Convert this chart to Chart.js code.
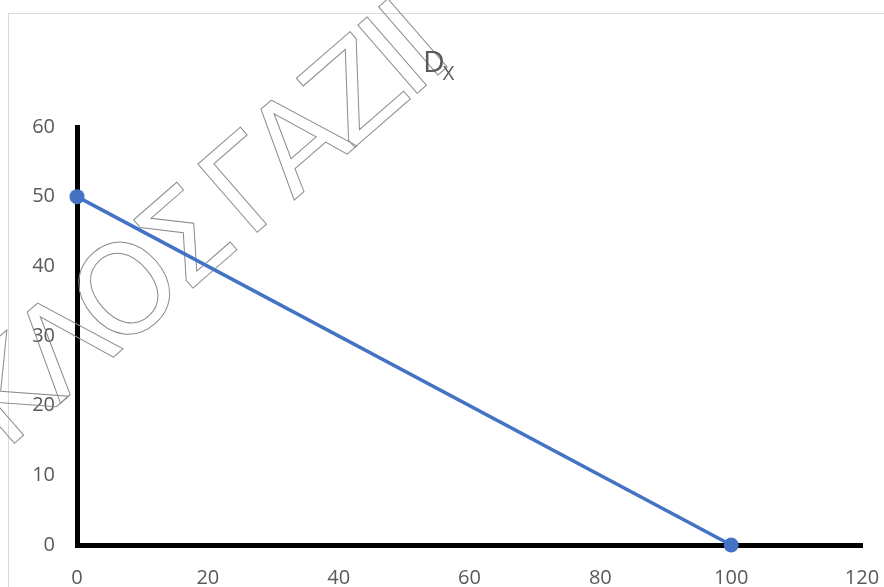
<!DOCTYPE html>
<html>
<head>
<meta charset="utf-8">
<script src="https://cdn.jsdelivr.net/npm/chart.js@4"></script>
<style>
    html, body { margin: 0; padding: 0; background: #fff; overflow: hidden; }
    #wrap { position: relative; width: 884px; height: 587px; }
</style>
</head>
<body>
<div id="wrap"><canvas id="demandChart" width="884" height="587"></canvas></div>
<script>
// demand curve D_X : quantity on x, price on y
const quantity = [0, 100];
const price = [50, 0];
const xTicks = [0, 20, 40, 60, 80, 100, 120];
const yTicks = [0, 10, 20, 30, 40, 50, 60];
const curveLabel = 'D';
const curveSub = 'X';
const watermark = 'ΚΛΟΣ\u2009ΓΑΖΙΙ';

const points = quantity.map((q, i) => ({ x: q, y: price[i] }));

// frame, watermark and the D_X label
const decor = {
    id: 'decor',
    beforeDraw(chart) {
        const ctx = chart.ctx;
        ctx.save();
        ctx.strokeStyle = '#d9d9d9';
        ctx.lineWidth = 1;
        ctx.strokeRect(8.5, 13.5, 920, 640);
        ctx.restore();
    },
    beforeDatasetsDraw(chart) {
        const ctx = chart.ctx;
        ctx.save();
        ctx.translate(-16, 427);
        ctx.rotate(-41 * Math.PI / 180);
        ctx.font = '124px "DejaVu Sans"';
        ctx.letterSpacing = '-9px';
        ctx.textBaseline = 'middle';
        ctx.textAlign = 'left';
        ctx.strokeStyle = '#8c8c8c';
        ctx.lineWidth = 1;
        ctx.strokeText(watermark, 0, 0);
        ctx.restore();
    },
    afterDraw(chart) {
        const ctx = chart.ctx;
        ctx.save();
        ctx.fillStyle = '#595959';
        ctx.textBaseline = 'alphabetic';
        ctx.font = '30px "Open Sans"';
        ctx.fillText(curveLabel, 423, 72);
        const w = ctx.measureText(curveLabel).width;
        ctx.font = '20px "Open Sans"';
        ctx.fillText(curveSub, 421 + w, 80);
        ctx.restore();
    }
};

const noOverhang = s => { s.paddingLeft = 0; s.paddingRight = 0; s.paddingTop = 0; s.paddingBottom = 0; };

const ctx = document.getElementById('demandChart').getContext('2d');
new Chart(ctx, {
    type: 'scatter',
    data: {
        datasets: [{
            label: 'Dx',
            data: points,
            showLine: true,
            clip: false,
            borderColor: '#4472c4',
            backgroundColor: '#4472c4',
            borderWidth: 3.5,
            pointRadius: 7.5,
            pointBorderWidth: 0,
            pointHoverRadius: 7.5
        }]
    },
    options: {
        responsive: false,
        animation: false,
        layout: { padding: { left: 0, top: 127, right: 22, bottom: 0 } },
        plugins: {
            legend: { display: false },
            tooltip: { enabled: false }
        },
        scales: {
            x: {
                type: 'linear',
                min: 0,
                max: 120,
                afterBuildTicks: s => { s.ticks = xTicks.map(v => ({ value: v })); },
                afterFit: s => { s.height = 42; noOverhang(s); },
                grid: { display: false, drawTicks: false },
                border: { color: '#000', width: 5 },
                ticks: { color: '#595959', font: { family: 'Open Sans', size: 20 }, padding: 21, maxRotation: 0 }
            },
            y: {
                type: 'linear',
                min: 0,
                max: 60,
                afterBuildTicks: s => { s.ticks = yTicks.map(v => ({ value: v })); },
                afterFit: s => { s.width = 77; noOverhang(s); },
                grid: { display: false, drawTicks: false },
                border: { color: '#000', width: 5 },
                ticks: { color: '#595959', font: { family: 'Open Sans', size: 20 }, padding: 22 }
            }
        }
    },
    plugins: [decor]
});
</script>
</body>
</html>
